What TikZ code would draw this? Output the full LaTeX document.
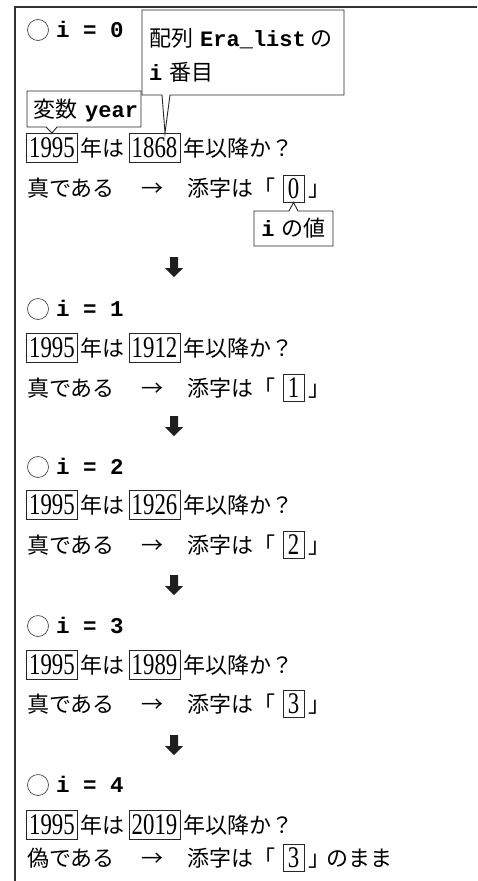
\documentclass[tikz,border=0pt]{standalone}
\usepackage{fontspec}
\usepackage{graphicx}
\newfontfamily\jp{Noto Sans CJK JP}
\newfontfamily\mono{Liberation Mono}
\newfontfamily\digf{Liberation Serif}
\usetikzlibrary{calc}
\newcommand\dg[1]{\scalebox{0.76}[1]{\digf\fontsize{30}{30}\selectfont #1}}
\newcommand\mb[1]{{\mono\bfseries #1}}
\tikzset{
 ln/.style={draw=black!85, line width=0.9pt},
 jt/.style={inner sep=0pt, anchor=base west, font=\jp\fontsize{22}{24}\selectfont},
 mt/.style={inner sep=0pt, anchor=base west, font=\mono\bfseries\fontsize{22.5}{23}\selectfont},
 numbox/.style={draw=black!85, line width=0.9pt, inner sep=0pt, minimum width=51pt, minimum height=29pt},
 idxbox/.style={draw=black!85, line width=0.9pt, inner sep=0pt, minimum width=21pt, minimum height=27pt},
 downarr/.style={fill=black!88},
 ring/.style={draw=black!70, line width=0.7pt},
}
\begin{document}
\begin{tikzpicture}[x=1pt,y=-1pt]
\useasboundingbox (0,0) rectangle (477,881);
\fill[white] (0,0) rectangle (477,881);
\draw[line width=1.3pt, draw=black!80] (477,7) -- (15,7) -- (15,881);

\foreach \k/\ir/\nr/\tr/\yr/\idx/\word/\tail in {
  0/30/148/188.5/1868/0/真/{},
  1/309/348/388/1912/1/真/{},
  2/467/505/545/1926/2/真/{},
  3/626/665/704/1989/3/真/{},
  4/785/825/858/2019/3/偽/のまま}{
  \draw[ring] (38,\ir) circle (10.5);
  \node[mt] (i\k) at (56,{\ir+7}) {i = \k};
  \node[numbox] (a\k) at (52,\nr) {\dg{1995}};
  \node[jt] (t\k) at (80,{\nr+8}) {年は};
  \node[numbox] (y\k) at (154.5,\nr) {\dg{\yr}};
  \node[jt] (q\k) at (183,{\nr+8}) {年以降か？};
  \node[jt] (w\k) at (27,{\tr+8}) {\word である};
  \node[jt,anchor=base] (r\k) at (152,{\tr+8}) {→};
  \node[jt] (s\k) at (187,{\tr+8}) {添字は「};
  \node[idxbox] (x\k) at (293.5,\tr) {\dg{\idx}};
  \node[jt] (e\k) at (308,{\tr+8}) {」\hspace{-4pt}\tail};
}

\foreach \ay in {267,426,585,745}{
  \fill[downarr] (170,{\ay-10}) -- (178,{\ay-10}) -- (178,{\ay+1}) -- (183,{\ay+1})
     -- (174,{\ay+10}) -- (165,{\ay+1}) -- (170,{\ay+1}) -- cycle;
}

% callout: 変数 year
\draw[ln, fill=white] (27,91) -- (27,127) -- (46,127) -- (a0.north) -- (57,127)
   -- (141,127) -- (141,91) -- cycle;
\node[jt] (vy) at (33,117) {変数\hspace{8pt}\mb{year}};

% callout: 配列 Era_list の i 番目
\draw[ln, fill=white] (142,10) -- (142,95) -- (162,95) -- ($(y0.north)+(10.5,0)$)
   -- (170,95) -- (344,95) -- (344,10) -- cycle;
\node[jt] (era1) at (149,46) {配列\hspace{7pt}\mb{Era\_list}\hspace{5pt}の};
\node[jt] (era2) at (149,80) {\mb{i}\hspace{7pt}番目};

% callout: i の値
\draw[ln, fill=white] (254,211) -- (289,211) -- (x0.south) -- (298,211) -- (333,211)
   -- (333,246) -- (254,246) -- cycle;
\node[jt, anchor=base] (iv) at (293.5,236) {\mb{i}\hspace{7pt}の値};
\end{tikzpicture}
\end{document}
